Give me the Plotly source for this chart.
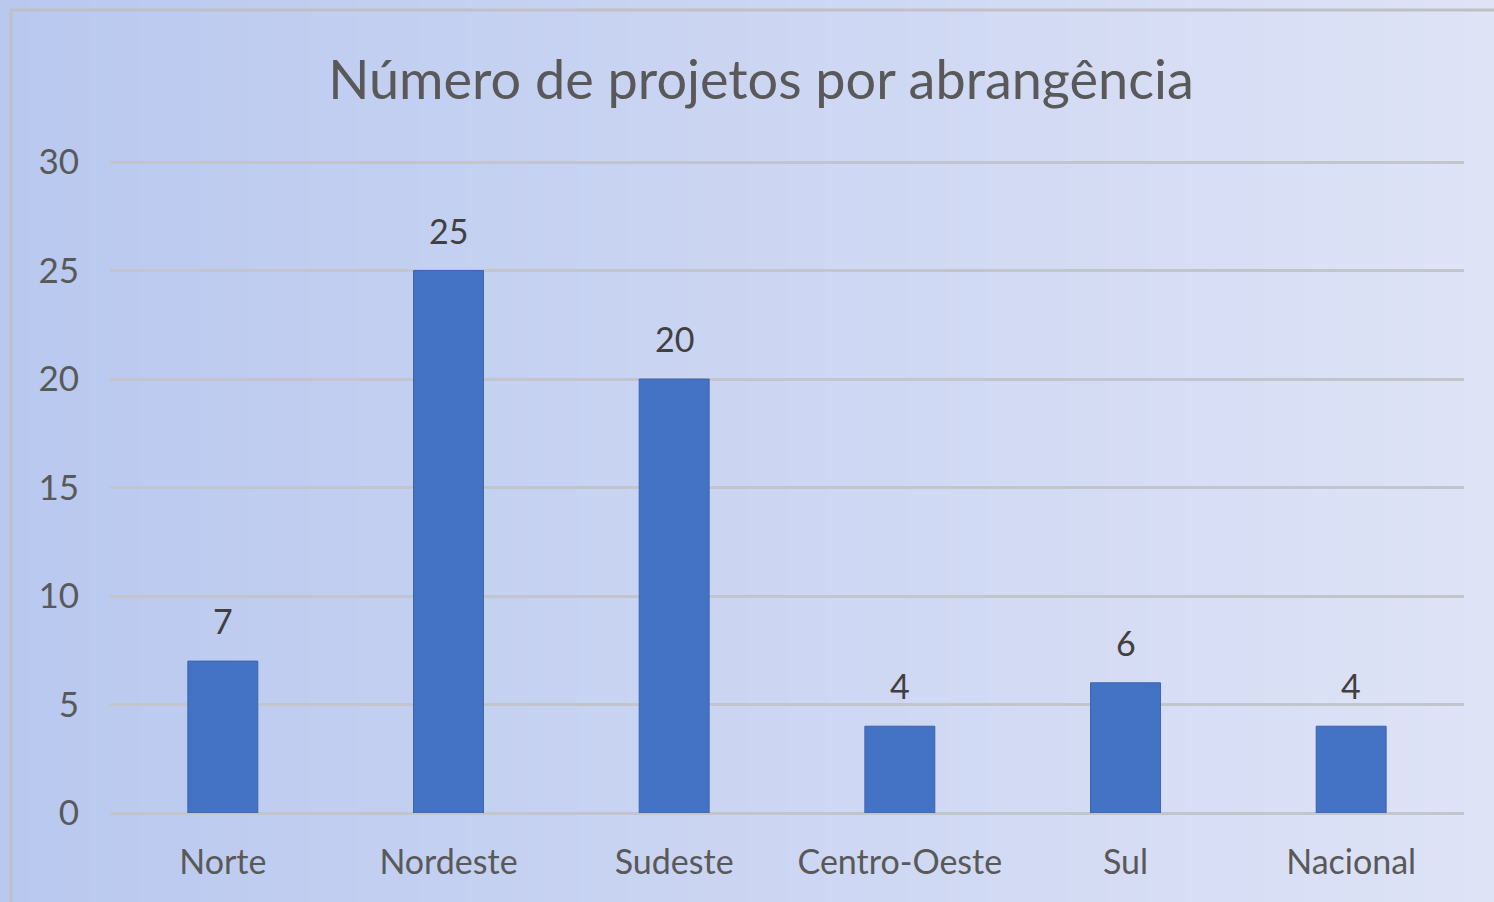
import plotly.graph_objects as go

categories = ["Norte", "Nordeste", "Sudeste", "Centro-Oeste", "Sul", "Nacional"]
values = [7, 25, 20, 4, 6, 4]
y_ticks = [0, 5, 10, 15, 20, 25, 30]
title_text = "Número de projetos por abrangência"

W, H = 1494, 902
L, R, T, B = 110, 30, 161, 89
pw, ph = W - L - R, H - T - B

def px_x(px):
    return (px - L) / pw

def px_y(py):
    return (H - B - py) / ph

FONT = "Lato"

fig = go.Figure()
fig.add_trace(go.Bar(
    x=categories, y=values,
    marker=dict(color="#4472c4", line=dict(color="#3b64ae", width=1)),
    width=0.31,
    hoverinfo="skip",
))

for c, v in zip(categories, values):
    fig.add_annotation(x=c, y=v, text=str(v), showarrow=False,
                       yanchor="bottom", yshift=18,
                       font=dict(family=FONT, size=34, color="#404040"))

# background gradient stripes
shapes = []
n = 150
c0 = (185, 200, 239)
c1 = (222, 227, 246)
for i in range(n):
    t = i / (n - 1)
    col = tuple(round(a + (b - a) * t) for a, b in zip(c0, c1))
    x0 = i * W / n
    x1 = (i + 1) * W / n + 1
    shapes.append(dict(type="rect", xref="paper", yref="paper",
                       x0=px_x(x0), x1=px_x(x1), y0=px_y(H), y1=px_y(0),
                       fillcolor="rgb(%d,%d,%d)" % col, line=dict(width=0),
                       layer="below"))
# frame
shapes.append(dict(type="rect", xref="paper", yref="paper",
                   x0=px_x(11), x1=px_x(W + 5), y0=px_y(H + 5), y1=px_y(10),
                   fillcolor="rgba(0,0,0,0)",
                   line=dict(color="#bfc0c6", width=3), layer="below"))

fig.update_layout(
    width=W, height=H,
    margin=dict(l=L, r=R, t=T, b=B),
    paper_bgcolor="#c8d2f0",
    plot_bgcolor="rgba(0,0,0,0)",
    shapes=shapes,
    showlegend=False,
    title=dict(text=title_text, x=761 / W, xref="container", xanchor="center",
               y=1 - 80 / H, yref="container", yanchor="middle",
               font=dict(family=FONT, size=54, color="#595959")),
    xaxis=dict(tickfont=dict(family=FONT, size=34, color="#595959"),
               showgrid=False, showline=False, ticks="",
               ticklabelstandoff=26),
    yaxis=dict(range=[0, 30.05], tickvals=y_ticks,
               tickfont=dict(family=FONT, size=35, color="#595959"),
               showgrid=True, gridcolor="#c3c5cc", gridwidth=3,
               zeroline=True, zerolinecolor="#c3c5cc", zerolinewidth=3,
               showline=False, ticks="", ticklabelstandoff=30),
)

fig.write_html("out.html", config={"displayModeBar": False},
               post_script="document.body.style.margin='0';document.body.style.overflow='hidden';")
